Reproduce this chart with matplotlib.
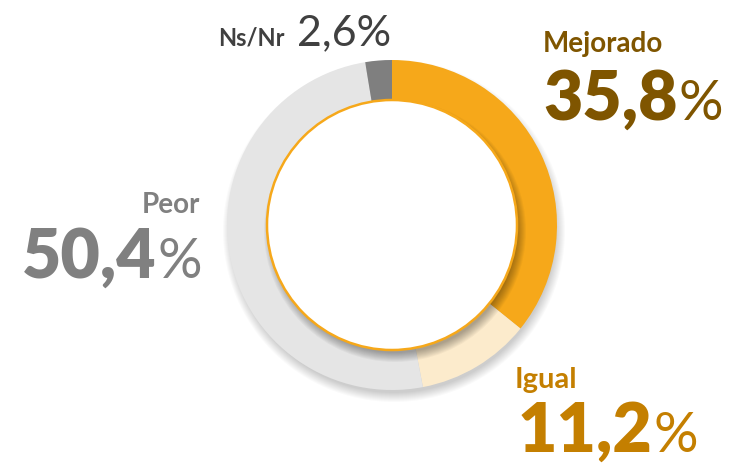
import matplotlib
matplotlib.use('Agg')
import matplotlib.pyplot as plt
from matplotlib.patches import Circle

# data
labels = ['Mejorado', 'Igual', 'Peor', 'Ns/Nr']
values = [35.8, 11.2, 50.4, 2.6]
value_text = ['35,8', '11,2', '50,4', '2,6']
colors = ['#F6A81A', '#FCEBCC', '#E5E5E5', '#7F7F7F']

W, H = 731, 466
plt.rcParams['font.family'] = ['Lato', 'DejaVu Sans']

fig = plt.figure(figsize=(W / 100, H / 100), dpi=100)
ax = fig.add_axes([0, 0, 1, 1])

cx, cy = 392, H - 225
r_out, r_in = 165, 125

# soft shadow under the ring
for i in range(10):
    ax.add_patch(Circle((cx + 2, cy - 6), r_out + 6 - i, color='black', alpha=0.018, lw=0, zorder=0))

ax.pie(values, colors=colors, startangle=90, counterclock=False, radius=r_out,
       center=(cx, cy), wedgeprops=dict(width=60, linewidth=0))

# shadow of the inner disc
for i in range(10):
    ax.add_patch(Circle((cx + 3, cy - 6), r_in + 6 - i, color='black', alpha=0.035, lw=0, zorder=3))
ax.add_patch(Circle((cx, cy), r_in, facecolor='white', edgecolor='#F6A81A', lw=1.8, zorder=4))

ax.set_xlim(0, W)
ax.set_ylim(0, H)
ax.set_aspect('equal')
ax.axis('off')

renderer = fig.canvas.get_renderer()


def big_number(x, y, txt, color, size=49, pct_size=40, ha='left'):
    t = ax.text(x, H - y, txt, fontsize=size, fontweight='heavy', color=color,
                ha='left', va='baseline', zorder=5)
    p = ax.text(0, H - y, '%', fontsize=pct_size, color=color, ha='left', va='baseline', zorder=5)
    ext = t.get_window_extent(renderer)
    pext = p.get_window_extent(renderer)
    if ha == 'right':
        left = x - (ext.width + 1 + pext.width)
        t.set_x(left)
        p.set_x(left + ext.width + 1)
    else:
        p.set_x(ext.x1 + 1)


# Mejorado
ax.text(543, H - 52, labels[0], fontsize=20, fontweight='bold', color='#7F5500', va='baseline')
big_number(543, 120, value_text[0], '#7F5500')

# Igual
ax.text(515, H - 388, labels[1], fontsize=21, fontweight='bold', color='#C47F00', va='baseline')
big_number(518, 452, value_text[1], '#C47F00')

# Peor
ax.text(200, H - 213, labels[2], fontsize=20, fontweight='bold', color='#808080', va='baseline', ha='right')
big_number(202, 278, value_text[2], '#808080', ha='right')

# Ns/Nr
ax.text(218, H - 45, labels[3], fontsize=17, fontweight='bold', color='#404040', va='baseline')
ax.text(297, H - 45, value_text[3] + '%', fontsize=31, fontweight='normal', color='#404040', va='baseline')

fig.savefig('out.png', dpi=100)
